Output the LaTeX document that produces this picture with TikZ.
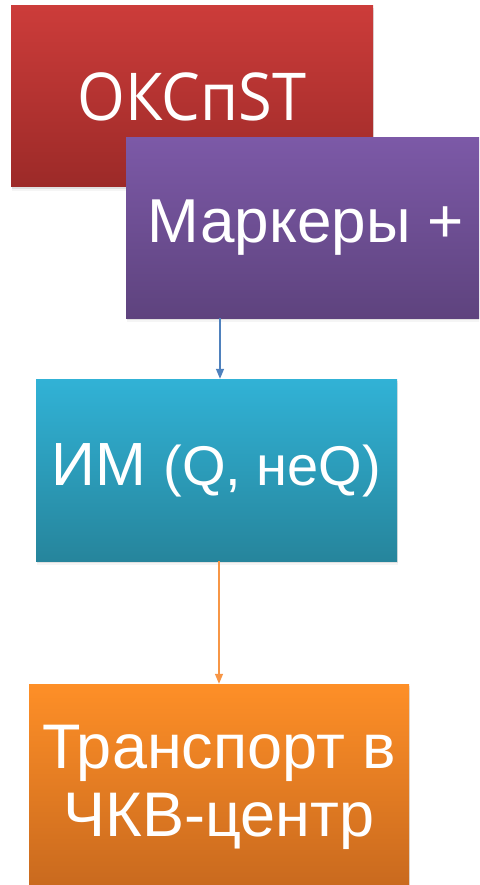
\documentclass[tikz,border=0pt]{standalone}
\usepackage{fontspec}
\usepackage{graphicx}
\setmainfont{Liberation Sans}
\newfontfamily\headfont{Open Sans}
\usetikzlibrary{arrows.meta,shadows}

\definecolor{redtop}{HTML}{CC3C3A}
\definecolor{redbot}{HTML}{9C2A28}
\definecolor{purtop}{HTML}{7C59A7}
\definecolor{purbot}{HTML}{5E437E}
\definecolor{cyantop}{HTML}{31B2D6}
\definecolor{cyanbot}{HTML}{26859C}
\definecolor{orgtop}{HTML}{FE8F27}
\definecolor{orgbot}{HTML}{C8691E}
\definecolor{bluearrow}{HTML}{4F81BD}
\definecolor{orgarrow}{HTML}{F79646}

\tikzset{
  x=1pt, y=-1pt,
  stagebox/.style={rectangle, inner sep=0pt, text=white, align=center,
    drop shadow={shadow xshift=1pt, shadow yshift=-2pt, opacity=0.18},
    drop shadow={shadow xshift=0.5pt, shadow yshift=-4pt, opacity=0.08}},
  flowline/.style={line width=1.4pt, -{Triangle[width=8pt,length=10pt]}},
}

\begin{document}
\begin{tikzpicture}
\useasboundingbox (0,0) rectangle (479,885);
\clip (0,0) rectangle (479,885);

% stage boxes
\node[stagebox, top color=redtop, bottom color=redbot,
      minimum width=362pt, minimum height=181pt,
      font=\headfont\fontsize{66}{70}\selectfont] (oks) at (192,96.5)
  {\scalebox{0.93}[1]{ОКСпST}};
\node[stagebox, top color=purtop, bottom color=purbot,
      minimum width=360pt, minimum height=180pt,
      font=\fontsize{62}{68}\selectfont] (mark) at (306,228)
  {Маркеры +};
\node[stagebox, top color=cyantop, bottom color=cyanbot,
      minimum width=361pt, minimum height=182pt,
      font=\fontsize{61}{68}\selectfont] (im) at (216.5,470)
  {ИМ {\fontsize{56}{68}\selectfont(Q, неQ)}};
\node[stagebox, top color=orgtop, bottom color=orgbot,
      minimum width=380pt, minimum height=206pt,
      font=\fontsize{63}{68}\selectfont] (tr) at (219,787)
  {Транспорт в\\ЧКВ-центр};

% connectors
\draw[flowline, bluearrow] (mark.south -| 220,0) -- (im.north -| 220,0);
\draw[flowline, orgarrow] (im.south -| 219,0) -- (tr.north -| 219,0);
\end{tikzpicture}
\end{document}
